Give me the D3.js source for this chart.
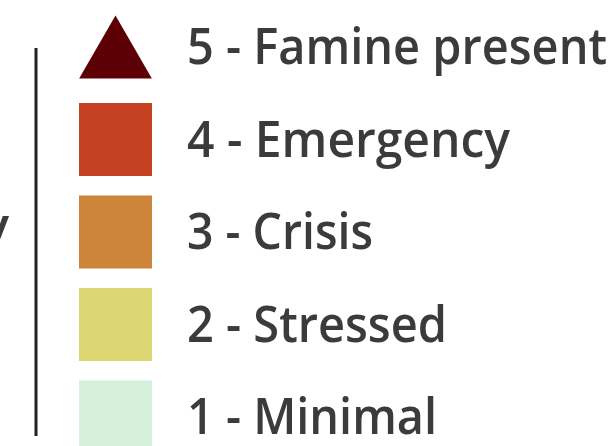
<!DOCTYPE html>
<html>
<head>
<meta charset="utf-8">
<script src="https://cdn.jsdelivr.net/npm/d3@7"></script>
<style>
  html, body { margin: 0; padding: 0; background: #fff; overflow: hidden; }
  text { font-family: "Open Sans", sans-serif; font-weight: 600; fill: #3b3b3b; }
</style>
</head>
<body>
<script>
const levels = [5, 4, 3, 2, 1]
const labels = ["5 - Famine present", "4 - Emergency", "3 - Crisis", "2 - Stressed", "1 - Minimal"]
const colors = ["#5c0006", "#c44122", "#cd853b", "#dbd672", "#d5f0db"]
const shapes = ["triangle", "square", "square", "square", "square"]
// widths the labels take up in the reference
const labelWidths = [420, 323, 186, 260, 250]

const width = 616
const height = 446

const svg = d3.select("body")
    .append("svg")
    .attr("width", width)
    .attr("height", height)

const y = d3.scalePoint()
    .domain(levels)
    .range([47, 417])

const swatch = 73
const swatchX = 79

const items = levels.map((d, i) => ({
    level: d, label: labels[i], color: colors[i], shape: shapes[i], w: labelWidths[i]
}))

// left bracket line + clipped axis title
svg.append("line")
    .attr("x1", 36).attr("x2", 36)
    .attr("y1", 48).attr("y2", 436)
    .attr("stroke", "#222")
    .attr("stroke-width", 3)

svg.append("text")
    .attr("x", 9)
    .attr("y", 243)
    .attr("text-anchor", "end")
    .style("font-size", "51px")
    .text("Severity")

const g = svg.selectAll("g.item")
    .data(items)
    .join("g")
    .attr("class", "item")
    .attr("transform", d => `translate(0,${y(d.level)})`)

g.filter(d => d.shape === "square")
    .append("rect")
    .attr("x", swatchX)
    .attr("y", -swatch / 2)
    .attr("width", swatch)
    .attr("height", swatch)
    .attr("fill", d => d.color)

// d3 triangle: height = 3r, centroid r/2 below box centre
const r = 21
g.filter(d => d.shape === "triangle")
    .append("path")
    .attr("d", d3.symbol(d3.symbolTriangle, r * r * 3 * Math.sqrt(3)))
    .attr("transform", `translate(${swatchX + swatch / 2},${r / 2})`)
    .attr("fill", d => d.color)

g.append("text")
    .attr("x", 187)
    .attr("y", 17)
    .style("font-size", "51px")
    .text(d => d.label)
    .each(function (d) {
        this.setAttribute("textLength", d.w)
        this.setAttribute("lengthAdjust", "spacingAndGlyphs")
    })
</script>
</body>
</html>
